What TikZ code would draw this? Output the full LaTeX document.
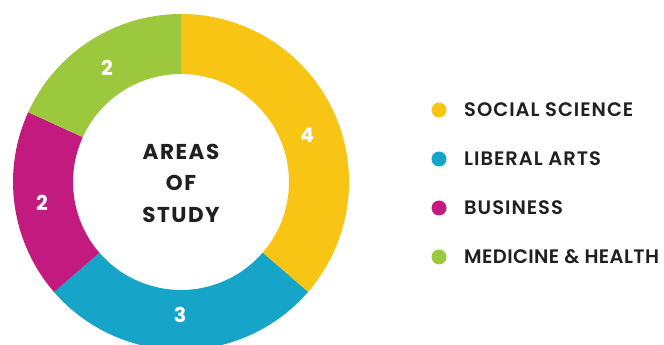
\documentclass[tikz,border=0pt]{standalone}
\usepackage{fontspec}
\setmainfont{Poppins}
\newfontfamily\legfont[LetterSpace=5]{Poppins SemiBold}
\newfontfamily\legfonttight[LetterSpace=2]{Poppins SemiBold}
\newfontfamily\boldfont[LetterSpace=7]{Poppins}
\definecolor{cyellow}{HTML}{F9C515}
\definecolor{cblue}{HTML}{16A4C9}
\definecolor{cmag}{HTML}{C21A7E}
\definecolor{cgreen}{HTML}{9BC83C}
\definecolor{ctext}{HTML}{231F20}
\tikzset{
  numlabel/.style={text=white,font=\boldfont\bfseries\fontsize{20.5}{20.5}\selectfont,inner sep=0pt},
  legtext/.style={text=ctext,font=\legfont\fontsize{19.5}{19.5}\selectfont,anchor=west,inner sep=0pt},
  legtexttight/.style={legtext,font=\legfonttight\fontsize{19.5}{19.5}\selectfont},
  legdot/.style={circle,inner sep=0pt,minimum size=15pt},
  centertext/.style={text=ctext,font=\boldfont\bfseries\fontsize{21.5}{31.5}\selectfont,align=center,inner sep=0pt}
}
\newcommand{\ringseg}[3]{%
  \fill[#3] (#1:168) arc[start angle=#1,end angle=#2,radius=168] -- (#2:108) arc[start angle=#2,end angle=#1,radius=108] -- cycle;}
\begin{document}
\begin{tikzpicture}[x=1pt,y=1pt]
\useasboundingbox (0,0) rectangle (664,345);
\begin{scope}[shift={(181,163)}]
  \ringseg{90}{-40.909}{cyellow}
  \ringseg{-40.909}{-139.091}{cblue}
  \ringseg{-139.091}{-204.545}{cmag}
  \ringseg{-204.545}{-270}{cgreen}
  \node[centertext] (title) at (0,-1) {AREAS\\OF\\STUDY};
  \node[numlabel] (n4) at (126,47) {4};
  \node[numlabel] (n3) at (-1,-133) {3};
  \node[numlabel] (n2b) at (-139,-21) {2};
  \node[numlabel] (n2m) at (-74,114) {2};
\end{scope}
\node[legdot,fill=cyellow] (d1) at (439,235) {};
\node[legdot,fill=cblue] (d2) at (439,186) {};
\node[legdot,fill=cmag] (d3) at (439,137) {};
\node[legdot,fill=cgreen] (d4) at (439,88) {};
\node[legtext] (l1) at (464,235) {SOCIAL SCIENCE};
\node[legtext] (l2) at (464,186) {LIBERAL ARTS};
\node[legtext] (l3) at (464,137) {BUSINESS};
\node[legtexttight] (l4) at (464,88) {MEDICINE \& HEALTH};
\end{tikzpicture}
\end{document}
